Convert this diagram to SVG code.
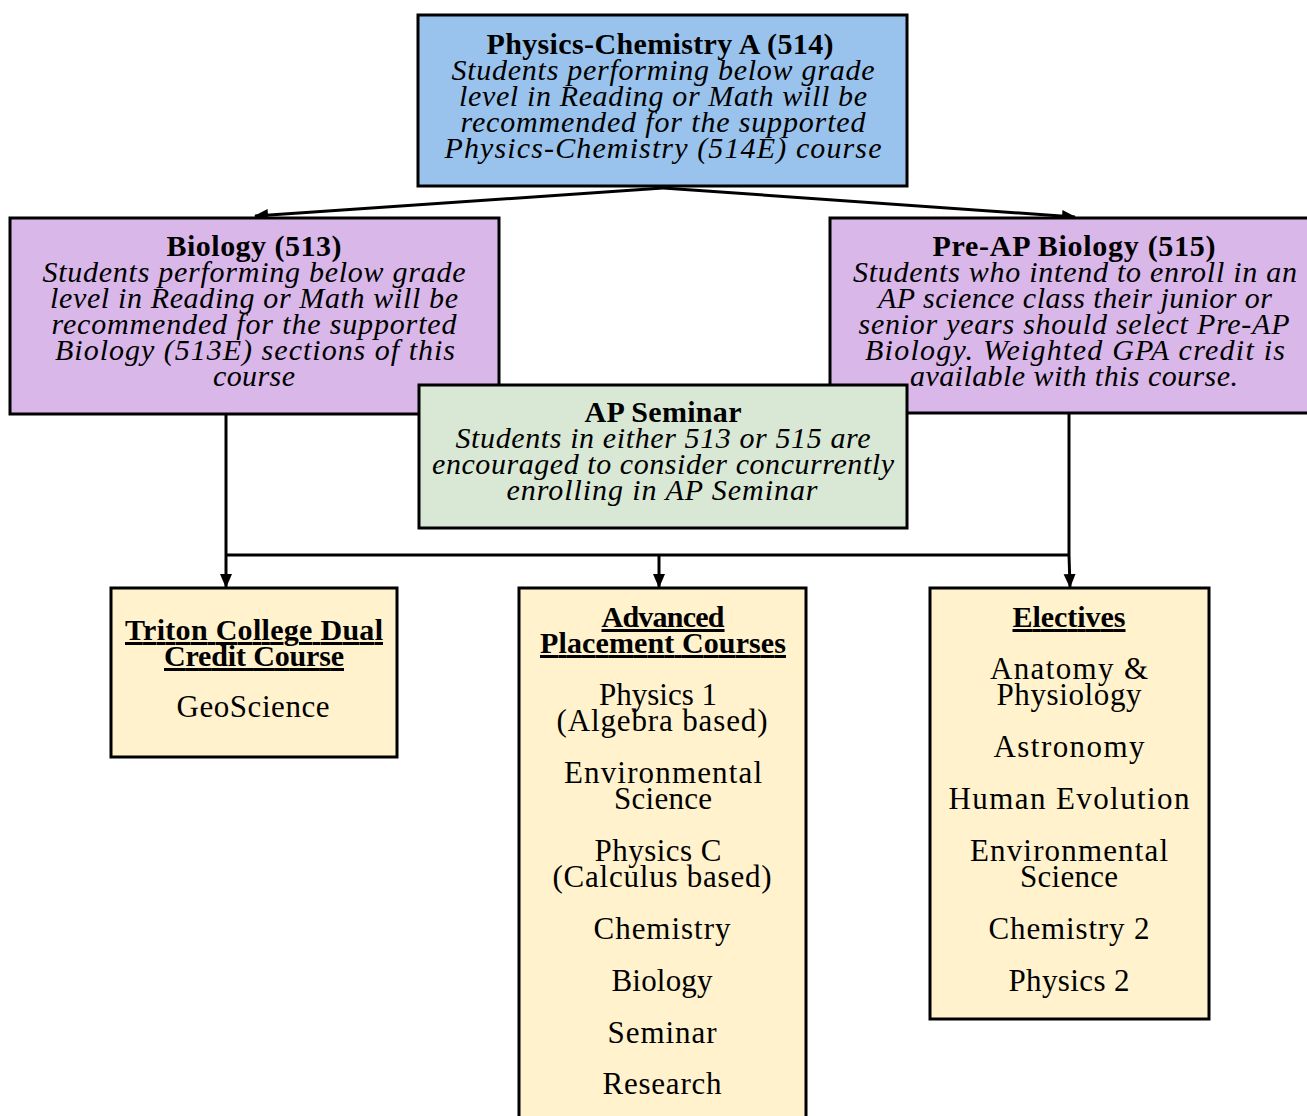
<svg xmlns="http://www.w3.org/2000/svg" width="1307" height="1116" viewBox="0 0 1307 1116">
<style>
.box{stroke:#000;stroke-width:3}
.blue{fill:#99C3EC}
.purple{fill:#D9B7E9}
.green{fill:#D9E8D4}
.yellow{fill:#FFF2CC}
text{font-family:"Liberation Serif","Times New Roman",serif;font-size:31px;fill:#000;text-anchor:middle}
.b{font-weight:bold;font-size:30px}
.i{font-style:italic;font-size:30px}
.u{text-decoration:underline}
.conn{stroke:#000;stroke-width:3;fill:none}
</style>
<defs>
<marker id="arr" markerUnits="userSpaceOnUse" markerWidth="14" markerHeight="14" viewBox="0 0 14 14" refX="13" refY="7" orient="auto">
<path d="M0,1 L14,7 L0,13 Z" fill="#000"/>
</marker>
</defs>
<g id="connectors">
<line class="conn" x1="663" y1="188" x2="255" y2="216" marker-end="url(#arr)"/>
<line class="conn" x1="663" y1="188" x2="1075" y2="217" marker-end="url(#arr)"/>
<line class="conn" x1="226" y1="414" x2="226" y2="555"/>
<line class="conn" x1="1069" y1="413" x2="1069" y2="555"/>
<line class="conn" x1="226" y1="555" x2="1069" y2="555"/>
<line class="conn" x1="226" y1="555" x2="226" y2="587" marker-end="url(#arr)"/>
<line class="conn" x1="659" y1="555" x2="659" y2="587" marker-end="url(#arr)"/>
<line class="conn" x1="1069" y1="555" x2="1070" y2="587" marker-end="url(#arr)"/>
</g>
<g id="physchem">
<rect class="box blue" x="418" y="15" width="489" height="171"/>
<text class="b" x="660" y="54" textLength="347">Physics-Chemistry A (514)</text>
<text class="i" x="663" y="80" textLength="423">Students performing below grade</text>
<text class="i" x="663" y="106" textLength="408">level in Reading or Math will be</text>
<text class="i" x="663" y="132" textLength="405">recommended for the supported</text>
<text class="i" x="663" y="158" textLength="437">Physics-Chemistry (514E) course</text>
</g>
<g id="biology">
<rect class="box purple" x="10" y="218" width="489" height="196"/>
<text class="b" x="254" y="256" textLength="175">Biology (513)</text>
<text class="i" x="254" y="282" textLength="423">Students performing below grade</text>
<text class="i" x="254" y="308" textLength="408">level in Reading or Math will be</text>
<text class="i" x="254" y="334" textLength="405">recommended for the supported</text>
<text class="i" x="255" y="360" textLength="400">Biology (513E) sections of this</text>
<text class="i" x="254" y="386" textLength="82">course</text>
</g>
<g id="preap">
<rect class="box purple" x="830" y="218" width="490" height="195"/>
<text class="b" x="1074" y="256" textLength="283">Pre-AP Biology (515)</text>
<text class="i" x="1075" y="282" textLength="444">Students who intend to enroll in an</text>
<text class="i" x="1075" y="308" textLength="394">AP science class their junior or</text>
<text class="i" x="1074" y="334" textLength="431">senior years should select Pre-AP</text>
<text class="i" x="1075" y="360" textLength="420">Biology. Weighted GPA credit is</text>
<text class="i" x="1074" y="386" textLength="328">available with this course.</text>
</g>
<g id="apseminar">
<rect class="box green" x="419" y="385" width="488" height="143"/>
<text class="b" x="663" y="422" textLength="157">AP Seminar</text>
<text class="i" x="663" y="448" textLength="415">Students in either 513 or 515 are</text>
<text class="i" x="663" y="474" textLength="462">encouraged to consider concurrently</text>
<text class="i" x="662" y="500" textLength="311">enrolling in AP Seminar</text>
</g>
<g id="triton">
<rect class="box yellow" x="111" y="588" width="286" height="169"/>
<text class="b u" x="254" y="640" textLength="258">Triton College Dual</text>
<text class="b u" x="254" y="666" textLength="180">Credit Course</text>
<text x="253" y="717" textLength="153">GeoScience</text>
</g>
<g id="apcourses">
<rect class="box yellow" x="519" y="588" width="287" height="535"/>
<text class="b u" x="663" y="627" textLength="123">Advanced</text>
<text class="b u" x="663" y="653" textLength="246">Placement Courses</text>
<text x="658" y="705" textLength="118">Physics 1</text>
<text x="662" y="731" textLength="211">(Algebra based)</text>
<text x="663" y="783" textLength="198">Environmental</text>
<text x="663" y="809" textLength="98">Science</text>
<text x="658" y="861" textLength="127">Physics C</text>
<text x="662" y="887" textLength="219">(Calculus based)</text>
<text x="662" y="939" textLength="137">Chemistry</text>
<text x="662" y="991" textLength="101">Biology</text>
<text x="662" y="1043" textLength="109">Seminar</text>
<text x="662" y="1094" textLength="119">Research</text>
</g>
<g id="electives">
<rect class="box yellow" x="930" y="588" width="279" height="431"/>
<text class="b u" x="1069" y="627" textLength="113">Electives</text>
<text x="1069" y="679" textLength="158">Anatomy &amp;</text>
<text x="1069" y="705" textLength="145">Physiology</text>
<text x="1069" y="757" textLength="151">Astronomy</text>
<text x="1069" y="809" textLength="241">Human Evolution</text>
<text x="1069" y="861" textLength="198">Environmental</text>
<text x="1069" y="887" textLength="98">Science</text>
<text x="1069" y="939" textLength="161">Chemistry 2</text>
<text x="1069" y="991" textLength="121">Physics 2</text>
</g>
</svg>
